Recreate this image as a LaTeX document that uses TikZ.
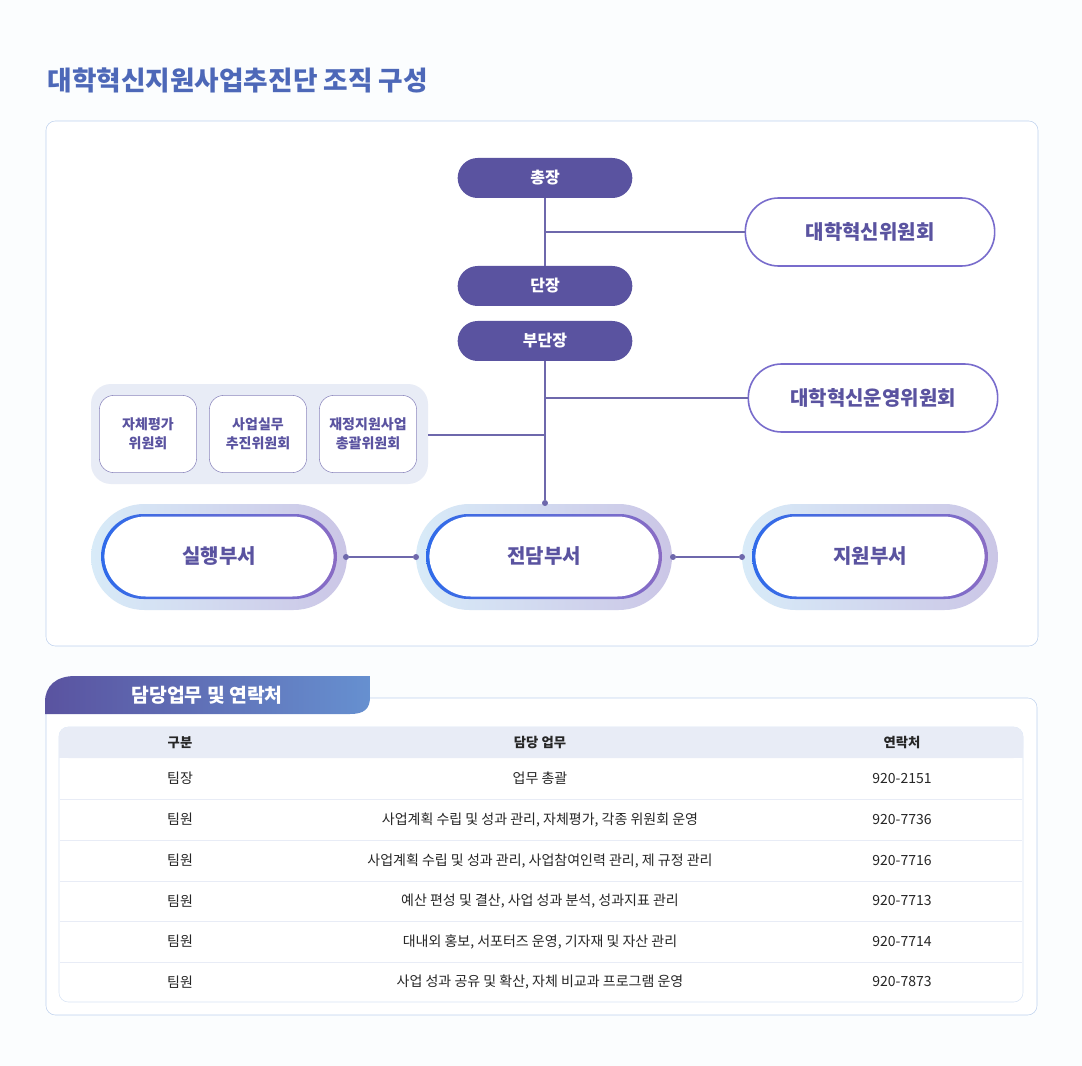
\documentclass[tikz,border=0pt]{standalone}
\usepackage{fontspec}
\setmainfont{Noto Sans CJK KR}
\usetikzlibrary{positioning,calc}
\definecolor{deep}{HTML}{5A53A0}
\definecolor{title}{HTML}{4D68B8}
\definecolor{frame}{HTML}{BFD2EE}
\definecolor{soft}{HTML}{E8ECF6}
\definecolor{wire}{HTML}{6E68AC}
\definecolor{haloL}{HTML}{D8EBF8}
\definecolor{haloR}{HTML}{CBC6E6}
\definecolor{rimL}{HTML}{2F6BEA}
\definecolor{rimR}{HTML}{8A6CC4}
\definecolor{tabR}{HTML}{6690D0}
\begin{document}
\begin{tikzpicture}[
  x=0.75pt, y=-0.75pt,
  head/.style = {rectangle, rounded corners=15pt, fill=deep, text=white,
                 minimum width=131pt, minimum height=30pt, font=\fontsize{12}{14}\selectfont\bfseries},
  board/.style = {rectangle, rounded corners=25pt, draw=rimR!80!rimL, line width=1.2pt, fill=white,
                 text=deep, minimum width=187pt, minimum height=51pt, font=\fontsize{15}{18}\selectfont\bfseries},
  cmte/.style = {rectangle, rounded corners=11pt, draw=wire!80!white, fill=white, text=deep,
                 align=center, minimum width=73pt, minimum height=58pt, font=\fontsize{10.5}{14}\selectfont\bfseries},
  unit/.style = {rectangle, rounded corners=31pt, fill=white, text=deep,
                 minimum width=172pt, minimum height=60pt, font=\fontsize{15}{18}\selectfont\bfseries},
  cell/.style = {font=\fontsize{10.5}{12}\selectfont, text=black!85},
  dot/.style = {circle, fill=wire, inner sep=0pt, minimum size=4.5pt},
  >=latex
]
% background
\fill[white!60!haloL!25] (0,0) rectangle (1082,1066);
\node[anchor=west, text=title, font=\fontsize{20}{24}\selectfont\bfseries] (ttl) at (43,80) {대학혁신지원사업추진단 조직 구성};
\draw[frame, fill=white, rounded corners=7pt] (46,121) rectangle (1038,646);

% ───────── top ─────────
\node[head] (chief)  at (545,178) {총장};
\node[head] (dir)    at (545,286) {단장};
\node[head] (vdir)   at (545,341) {부단장};
\node[board] (inno)  at (870,232) {대학혁신위원회};
\node[board] (oper)  at (873,398) {대학혁신운영위원회};

% ───────── committees ─────────
\fill[soft, rounded corners=15pt] (91,384) rectangle (428,484);
\node[cmte] (c1) at (148,434) {자체평가\\위원회};
\node[cmte] (c2) at (258,434) {사업실무\\추진위원회};
\node[cmte] (c3) at (368,434) {재정지원사업\\총괄위원회};

% ───────── departments ─────────
\foreach \cx/\nm/\tx in {219/exec/실행부서, 544/core/전담부서, 870/supp/지원부서}{
  \shade[left color=haloL, right color=haloR, rounded corners=40pt] (\cx-128,504) rectangle (\cx+128,610);
  \shade[left color=rimL, right color=rimR, rounded corners=32pt] (\cx-118,514) rectangle (\cx+118,599);
  \node[unit] (\nm) at (\cx,556.5) {\tx};
}

% ───────── connectors ─────────
\coordinate (j1) at (545,232);
\coordinate (j2) at (545,398);
\coordinate (j3) at (545,435);
\node[dot] (top) at (545,503) {};
\draw[wire, thick] (chief) -- (dir);
\draw[wire, thick] (j1) -- (inno.west);
\draw[wire, thick] (vdir) -- (top);
\draw[wire, thick] (j2) -- (oper.west);
\draw[wire, thick] (428,435) -- (j3);
\node[dot] (d1) at (346,557) {};
\node[dot] (d2) at (416,557) {};
\node[dot] (d3) at (673,557) {};
\node[dot] (d4) at (742,557) {};
\draw[wire, thick] (d1) -- (d2);
\draw[wire, thick] (d3) -- (d4);

% ───────── table ─────────
\draw[frame, fill=white, rounded corners=7pt] (46,698) rectangle (1037,1015);
\shade[left color=deep, right color=tabR]
  (45,714) -- (45,702) .. controls (45,686) and (56,676) .. (75,676) -- (370,676) -- (370,697)
  .. controls (370,709) and (364,714) .. (350,714) -- cycle;
\node[text=white, font=\fontsize{14.5}{17}\selectfont\bfseries] (tab) at (207,695) {담당업무 및 연락처};
\draw[frame!60, fill=white, rounded corners=7pt] (59,727) rectangle (1023,1002);
\fill[soft, rounded corners=7pt] (59,727) rectangle (1023,758);
\fill[soft] (59,745) rectangle (1023,758);
\foreach \yy in {799,840,881,921,962}{ \draw[soft] (60,\yy) -- (1022,\yy); }
\node[cell, font=\fontsize{10}{12}\selectfont\bfseries] (h1) at (180,742.5) {구분};
\node[cell, font=\fontsize{10}{12}\selectfont\bfseries] (h2) at (540,742.5) {담당 업무};
\node[cell, font=\fontsize{10}{12}\selectfont\bfseries] (h3) at (902,742.5) {연락처};
\foreach \i/\yy/\role/\job/\tel in {
  1/778.5/팀장/업무 총괄/920-2151,
  2/819.5/팀원/{사업계획 수립 및 성과 관리, 자체평가, 각종 위원회 운영}/920-7736,
  3/860.5/팀원/{사업계획 수립 및 성과 관리, 사업참여인력 관리, 제 규정 관리}/920-7716,
  4/901/팀원/{예산 편성 및 결산, 사업 성과 분석, 성과지표 관리}/920-7713,
  5/941.5/팀원/{대내외 홍보, 서포터즈 운영, 기자재 및 자산 관리}/920-7714,
  6/982/팀원/{사업 성과 공유 및 확산, 자체 비교과 프로그램 운영}/920-7873}{
  \node[cell] (r\i a) at (180,\yy) {\role};
  \node[cell] (r\i b) at (540,\yy) {\job};
  \node[cell] (r\i c) at (902,\yy) {\tel};
}
\end{tikzpicture}
\end{document}
